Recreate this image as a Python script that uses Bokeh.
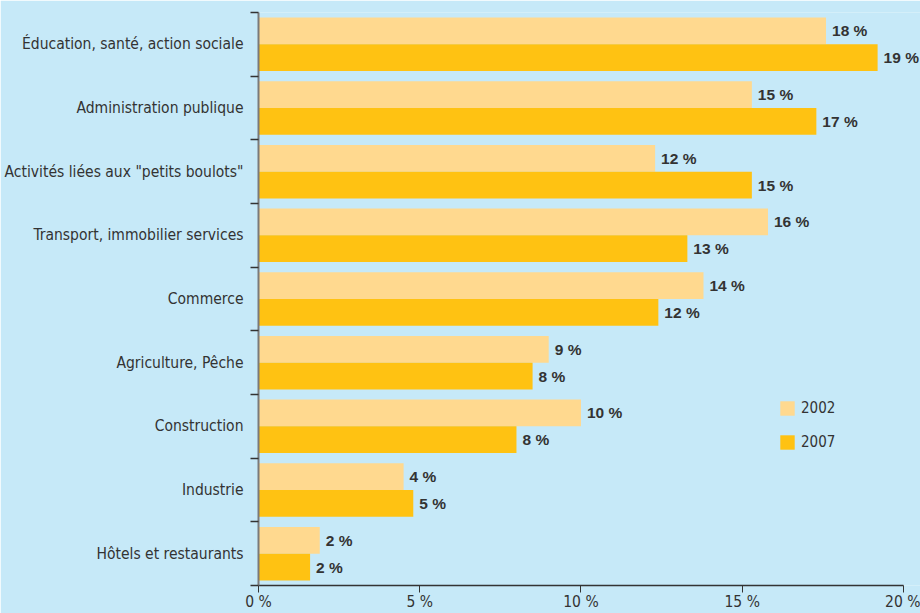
from bokeh.plotting import figure
from bokeh.models import Range1d, FixedTicker, ColumnDataSource, Legend, LegendItem
from bokeh.transform import dodge
from bokeh.core.properties import value
from bokeh.embed import file_html
from bokeh.resources import INLINE

categories = ["Éducation, santé, action sociale", "Administration publique",
              "Activités liées aux \"petits boulots\"", "Transport, immobilier services",
              "Commerce", "Agriculture, Pêche", "Construction", "Industrie",
              "Hôtels et restaurants"]
values_2002 = [17.6, 15.3, 12.3, 15.8, 13.8, 9.0, 10.0, 4.5, 1.9]
values_2007 = [19.2, 17.3, 15.3, 13.3, 12.4, 8.5, 8.0, 4.8, 1.6]
labels_2002 = ["18 %", "15 %", "12 %", "16 %", "14 %", "9 %", "10 %", "4 %", "2 %"]
labels_2007 = ["19 %", "17 %", "15 %", "13 %", "12 %", "8 %", "8 %", "5 %", "2 %"]
x_ticks = [0, 5, 10, 15, 20]
x_tick_labels = ["0 %", "5 %", "10 %", "15 %", "20 %"]
series = ["2002", "2007"]

BG = "#c6e9f8"
C2002 = "#ffd98f"
C2007 = "#ffc212"
TXT = "#333333"
COND = "'Liberation Sans Narrow', 'DejaVu Sans Condensed', sans-serif"
BOLD = "'Liberation Sans', Arial, sans-serif"

ypos = [i + 0.5 for i in range(len(categories))]
src = ColumnDataSource(dict(y=ypos, v02=values_2002, v07=values_2007,
                            l02=labels_2002, l07=labels_2007))

p = figure(width=920, height=613, output_backend="svg", toolbar_location=None,
           x_range=Range1d(0, 20.53), y_range=Range1d(len(categories), 0),
           min_border_left=258, min_border_right=0, min_border_top=12, min_border_bottom=20)
p.background_fill_color = BG
p.border_fill_color = BG
p.outline_line_color = None
p.grid.visible = False

bar_h = 0.42
r1 = p.hbar(y=dodge("y", -0.21, range=p.y_range), left=0, right="v02", height=bar_h,
            color=C2002, line_color=None, source=src)
r2 = p.hbar(y=dodge("y", 0.21, range=p.y_range), left=0, right="v07", height=bar_h,
            color=C2007, line_color=None, source=src)

p.text(x="v02", y=dodge("y", -0.21, range=p.y_range), text="l02", source=src,
       x_offset=6, text_baseline="middle", text_font=value(BOLD),
       text_font_style="bold", text_font_size="15.5px", text_color=TXT)
p.text(x="v07", y=dodge("y", 0.21, range=p.y_range), text="l07", source=src,
       x_offset=6, text_baseline="middle", text_font=value(BOLD),
       text_font_style="bold", text_font_size="15.5px", text_color=TXT)

# x axis
xa = p.xaxis[0]
xa.bounds = (0, 20)
xa.ticker = FixedTicker(ticks=x_ticks, minor_ticks=[])
xa.major_label_overrides = {t: l for t, l in zip(x_ticks, x_tick_labels)}
xa.axis_line_color = TXT
xa.axis_line_width = 1.5
xa.major_tick_line_color = TXT
xa.major_tick_out = 7
xa.major_tick_in = 0
xa.major_label_standoff = 0
xa.major_label_text_font = COND
xa.major_label_text_font_size = "15.5px"
xa.major_label_text_color = TXT

# y axis
ya = p.yaxis[0]
ya.ticker = FixedTicker(ticks=ypos, minor_ticks=list(range(len(categories) + 1)))
ya.major_label_overrides = {y: c for y, c in zip(ypos, categories)}
ya.axis_line_color = "#7a7a7a"
ya.axis_line_width = 2
ya.major_tick_line_color = None
ya.major_tick_out = 0
ya.major_tick_in = 0
ya.minor_tick_line_color = TXT
ya.minor_tick_line_width = 1.5
ya.minor_tick_out = 8
ya.minor_tick_in = 0
ya.major_label_standoff = 7
ya.major_label_text_font = COND
ya.major_label_text_font_size = "15.5px"
ya.major_label_text_color = TXT

legend = Legend(items=[LegendItem(label=series[0], renderers=[r1]),
                       LegendItem(label=series[1], renderers=[r2])],
                location=(520, 134), orientation="vertical",
                background_fill_alpha=0, border_line_color=None,
                glyph_width=18, glyph_height=18, label_height=18,
                spacing=16, padding=0, margin=0, label_standoff=5,
                label_text_font=COND, label_text_font_size="15px",
                label_text_color=TXT)
p.add_layout(legend)

open("out.html", "w").write(file_html(p, INLINE))
